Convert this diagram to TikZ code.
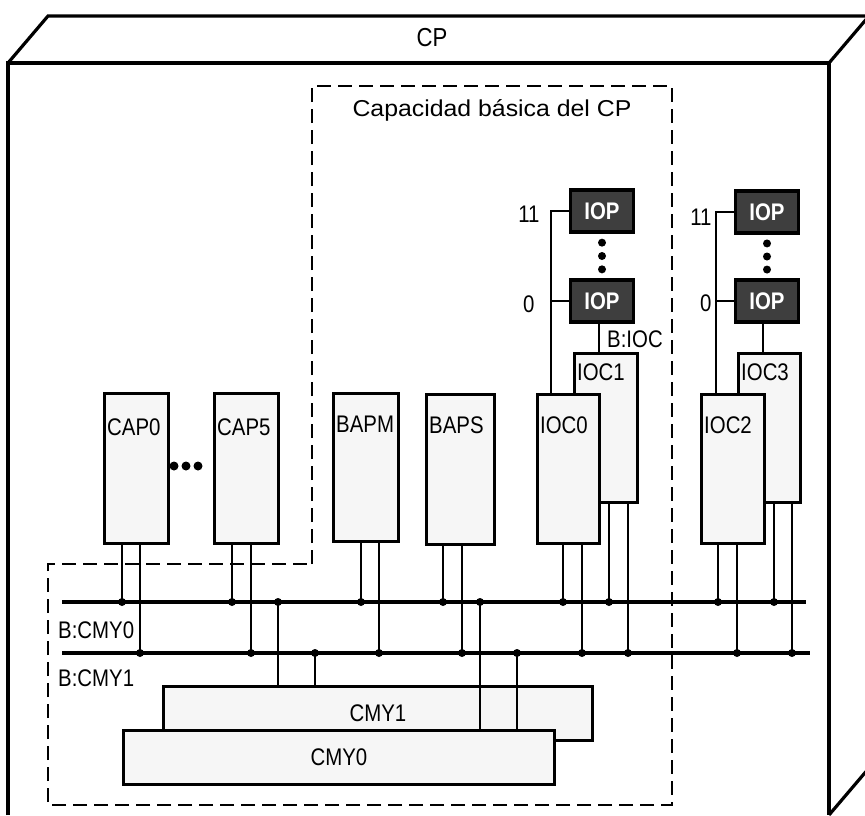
\documentclass[tikz,border=0pt]{standalone}
\usepackage{fontspec}
\setmainfont[FakeStretch=0.85]{Liberation Sans}
\newfontfamily\basefont[FakeStretch=1.08]{Liberation Sans}
\usetikzlibrary{calc}
\definecolor{modfill}{RGB}{246,246,246}
\definecolor{iopfill}{RGB}{62,62,62}

\begin{document}
\begin{tikzpicture}[x=1pt,y=-1pt,
  font=\fontsize{24}{28}\selectfont,
  edge/.style={line width=3.2pt,line join=miter},
  mod/.style={draw,line width=3pt,fill=modfill,minimum width=64,minimum height=150,
    inner sep=0pt,anchor=north west},
  mem/.style={mod,minimum height=54},
  iop/.style={draw,line width=3.5pt,fill=iopfill,text=white,minimum width=63,minimum height=42,
    inner sep=0pt,font=\fontsize{24}{28}\selectfont\bfseries},
  lbl/.style={inner sep=0pt},
  bus/.style={line width=4.5pt},
  leg/.style={line width=1.8pt},
  region/.style={line width=2.8pt,dash pattern=on 14pt off 7pt},
  jdot/.style={circle,fill,inner sep=0pt,minimum size=8}]
\useasboundingbox (0,0) rectangle (865,815);

% CP cabinet
\draw[edge] (8,815) -- (8,63) -- (829,63) -- (829,815);
\draw[edge] (8,63) -- (48,16) -- (869,16);
\draw[edge] (829,63) -- (869,16);
\draw[edge] (829,815) -- (869,768);
\node[lbl,font=\fontsize{26}{30}\selectfont] (cp) at (432,38) {CP};

% basic capacity region
\draw[region] (312,564) -- (312,86) -- (672,86) -- (672,805) -- (48,805) -- (48,564) -- cycle;
\node[lbl,font=\basefont\fontsize{23}{27}\selectfont] (base) at (492,110) {Capacidad básica del CP};

% processors
\node[mod] (cap0) at (103,392) {};
\node[mod] (cap5) at (213,392) {};
\node[mod,minimum width=65,minimum height=148] (bapm) at (332,392) {};
\node[mod,minimum width=68] (baps) at (425,393) {};
\node[mod,minimum width=63,minimum height=149] (ioc1) at (573,352) {};
\node[mod,minimum width=62,minimum height=149] (ioc0) at (536,393) {};
\node[mod,minimum width=62,minimum height=149] (ioc3) at (737,352) {};
\node[mod,minimum width=63,minimum height=149] (ioc2) at (700,393) {};
\foreach \m/\t/\d in {cap0/CAP0/35,cap5/CAP5/35,bapm/BAPM/32,baps/BAPS/32,
    ioc0/IOC0/32,ioc1/IOC1/20,ioc2/IOC2/32,ioc3/IOC3/20}
  \node[lbl,anchor=west] (\m-t) at ($(\m.north west)+(4,\d)$) {\t};
\foreach \x in {174,186,198}
  \node[jdot,minimum size=9] (dd\x) at (\x,466) {};

% I/O processors
\node[iop] (iopa11) at (602,211) {IOP};
\node[iop] (iopa0) at (602,301) {IOP};
\node[iop] (iopb11) at (767,212) {IOP};
\node[iop] (iopb0) at (767,301) {IOP};
\foreach \t in {0.2,0.5,0.8}{
  \fill ($(iopa11.south)!\t!(iopa0.north)$) circle (4);
  \fill ($(iopb11.south)!\t!(iopb0.north)$) circle (4);
}
\path (iopa11.west) ++(-18,0) coordinate (ta);
\path (iopb11.west) ++(-18,0) coordinate (tb);
\draw[leg] (iopa11.west) -- (ta) -- (ta |- ioc0.north);
\draw[leg] (iopa0.west) -- (iopa0.west -| ta);
\draw[leg] (iopb11.west) -- (tb) -- (tb |- ioc2.north);
\draw[leg] (iopb0.west) -- (iopb0.west -| tb);
\node[lbl,anchor=east] (na11) at ($(ta)+(-11,3)$) {11};
\node[lbl,anchor=east] (na0) at ($(ta |- iopa0.west)+(-16,3)$) {0};
\node[lbl,anchor=east] (nb11) at ($(tb)+(-4,5)$) {11};
\node[lbl,anchor=east] (nb0) at ($(tb |- iopb0.west)+(-4,2)$) {0};
\path (iopa0.south) ++(-3,0) coordinate (ba);
\path (iopb0.south) ++(-4,0) coordinate (bb);
\draw[leg] (ba) -- (ba |- ioc1.north);
\draw[leg] (bb) -- (bb |- ioc3.north);
\node[lbl,anchor=west] (bioc) at ($(ba)+(8,15)$) {B:IOC};

% memory buses
\coordinate (b0w) at (62,602);
\coordinate (b0e) at (806,602);
\coordinate (b1w) at (62,653);
\coordinate (b1e) at (810,653);
\draw[bus] (b0w) -- (b0e);
\draw[bus] (b1w) -- (b1e);
\node[lbl,anchor=west] (bcmy0) at (58,630) {B:CMY0};
\node[lbl,anchor=west] (bcmy1) at (58,678) {B:CMY1};
\foreach \m/\a/\b in {cap0/122/140,cap5/232/251,bapm/361/379,baps/443/462,
    ioc0/563/582,ioc1/609/628,ioc2/718/737,ioc3/774/792}{
  \draw[leg] (\m.south -| \a,0) -- (\a,0 |- b0w) node[jdot]{};
  \draw[leg] (\m.south -| \b,0) -- (\b,0 |- b1w) node[jdot]{};
}

% main storage
\node[mem,minimum width=429] (cmy1) at (162,685) {CMY1};
\draw[leg] (278,0 |- b0w) node[jdot]{} -- (278,0 |- cmy1.north);
\draw[leg] (315,0 |- b1w) node[jdot]{} -- (315,0 |- cmy1.north);
\node[mem,minimum width=431] (cmy0) at (122,729) {CMY0};
\draw[leg] (480,0 |- b0w) node[jdot]{} -- (480,0 |- cmy0.north);
\draw[leg] (517,0 |- b1w) node[jdot]{} -- (517,0 |- cmy0.north);
\end{tikzpicture}
\end{document}
